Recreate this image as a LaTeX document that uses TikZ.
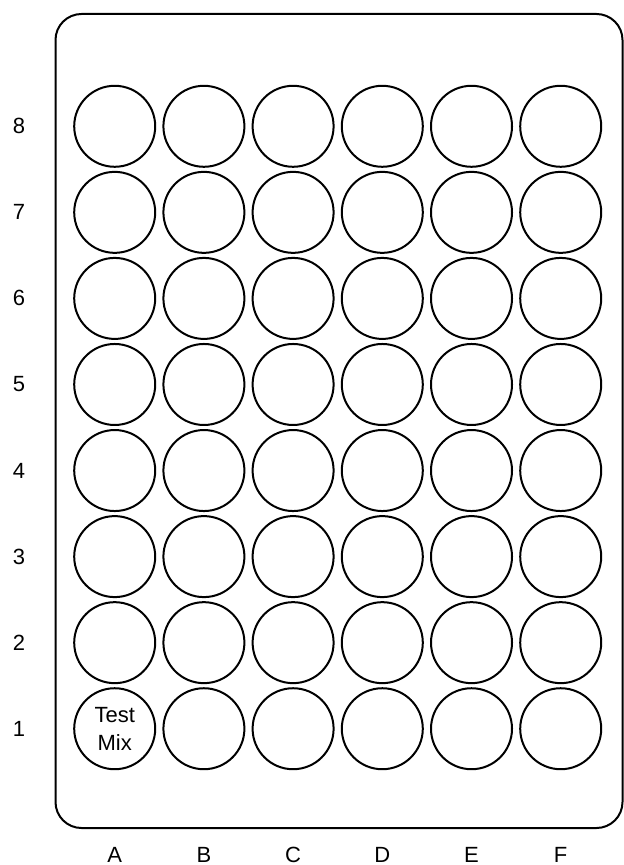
\documentclass[tikz,border=0pt]{standalone}
\usepackage{fontspec}
\setmainfont{Liberation Sans}
\usetikzlibrary{positioning}

\begin{document}
\begin{tikzpicture}[x=0.5pt, y=-0.5pt,
    well/.style={draw, circle, line width=1pt, minimum size=40.5pt, inner sep=0pt},
    lbl/.style={font=\fontsize{11}{14}\selectfont}]
    \useasboundingbox (0,0) rectangle (624,865);
    % plate outline
    \node[draw, line width=1pt, rounded corners=13pt, minimum width=283.5pt, minimum height=407pt, inner sep=0pt] (plate) at (339,421) {};

    % wells, columns A-F and rows 1-8
    \foreach \c [count=\i from 0] in {A,...,F} {
        \foreach \r in {1,...,8} {
            \node[well] (\c\r) at ({114.7+89.2*\i}, {126.3+86.06*(8-\r)}) {};
        }
        \node[lbl] (col\c) at ({114.7+89.2*\i}, 855) {\c};
    }
    \foreach \r in {1,...,8}
        \node[lbl] (row\r) at (19, {126.3+86.06*(8-\r)}) {\r};

    \node[lbl, align=center] (mix) at (A1) {Test\\Mix};
\end{tikzpicture}
\end{document}
